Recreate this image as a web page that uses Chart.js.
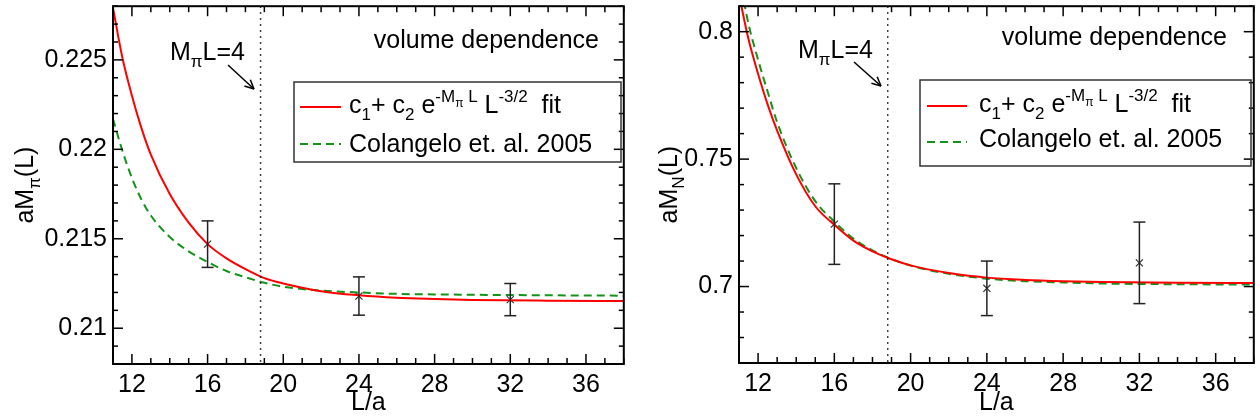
<!DOCTYPE html>
<html lang="en">
<head>
<meta charset="UTF-8">
<title>Volume dependence</title>
<style>
    * { margin: 0; padding: 0; box-sizing: border-box; }
    body { background: #fff; width: 1260px; height: 420px; overflow: hidden; }
    .row { display: flex; }
    canvas { display: block; }
</style>
</head>
<body>
<div class="row">
    <canvas id="pionChart" width="630" height="420"></canvas>
    <canvas id="nucleonChart" width="630" height="420"></canvas>
</div>

<script src="https://cdn.jsdelivr.net/npm/chart.js@4.4.1/dist/chart.umd.min.js"></script>
<script>
// lattice sizes and measured masses (with errors)
const latticeL = [16, 24, 32];
const pionMass = [0.2147, 0.2118, 0.2116];
const pionErr = [0.0013, 0.00107, 0.0009];
const nucleonMass = [0.7245, 0.6993, 0.7093];
const nucleonErr = [0.0158, 0.0107, 0.016];

// curves
const curveL = [11, 11.5, 12, 12.5, 13, 14, 15, 16, 17, 18, 19, 20, 22, 24, 26, 28, 30, 34, 38];
const pionFit = [0.2279, 0.2251, 0.2230, 0.2212, 0.2197, 0.2175, 0.2159, 0.2147, 0.2139, 0.2133,
                 0.2128, 0.2125, 0.21207, 0.21184, 0.2117, 0.21163, 0.21158, 0.21154, 0.21152];
const pionColangelo = [0.2217, 0.2199, 0.2184, 0.2172, 0.2163, 0.2151, 0.2143, 0.2137, 0.2132, 0.21285,
                       0.21254, 0.21232, 0.2121, 0.2120, 0.21192, 0.21189, 0.21187, 0.21184, 0.21182];
const nucleonFit = [0.8145, 0.797, 0.7835, 0.7715, 0.7612, 0.7440, 0.7315, 0.7242, 0.7180, 0.7138,
                    0.7107, 0.7083, 0.7053, 0.7035, 0.7026, 0.7021, 0.7018, 0.7015, 0.7014];
const nucleonColangelo = [0.822, 0.803, 0.789, 0.7765, 0.7645, 0.7465, 0.7335, 0.7255, 0.7188, 0.7142,
                          0.7108, 0.7082, 0.7050, 0.7031, 0.7021, 0.7016, 0.7012, 0.7009, 0.7008];

// axes
const xTicks = [12, 16, 20, 24, 28, 32, 36];
const pionTicks = [0.21, 0.215, 0.22, 0.225];
const pionTickLabels = ['0.21', '0.215', '0.22', '0.225'];
const nucleonTicks = [0.7, 0.75, 0.8];
const nucleonTickLabels = ['0.7', '0.75', '0.8'];
const markL = 18.8;   // M_pi L = 4

const FAMILY = '"Liberation Sans", Arial, Helvetica, sans-serif';
const RED = '#ff0000';
const GREEN = '#13931a';

function font(px) { return px + 'px ' + FAMILY; }

// text made of [string, mode] pieces: n = normal, sub, sup, supsub
function drawRich(ctx, parts, x, y, align) {
    const sizes = { n: 25, sub: 17, sup: 17, supsub: 12 };
    const shift = { n: 0, sub: 7, sup: -11, supsub: -6 };
    let w = 0;
    parts.forEach(p => { ctx.font = font(sizes[p[1] || 'n']); w += ctx.measureText(p[0]).width; });
    let cx = align === 'center' ? x - w / 2 : align === 'right' ? x - w : x;
    ctx.textAlign = 'left';
    ctx.textBaseline = 'alphabetic';
    parts.forEach(p => {
        const m = p[1] || 'n';
        ctx.font = font(sizes[m]);
        ctx.fillText(p[0], cx, y + shift[m]);
        cx += ctx.measureText(p[0]).width;
    });
}

function line(ctx, x1, y1, x2, y2) {
    ctx.beginPath();
    ctx.moveTo(x1, y1);
    ctx.lineTo(x2, y2);
    ctx.stroke();
}

function tickLoop(min, max, step, major, fn) {
    for (let i = Math.ceil(min / step - 1e-9); i * step <= max + 1e-9; i++) {
        const v = i * step;
        const isMajor = Math.abs(v / major - Math.round(v / major)) < 1e-6;
        fn(v, isMajor);
    }
}

// no extra room for overhanging tick labels
function noPad(s) {
    s.paddingTop = 0;
    s.paddingBottom = 0;
    s.paddingLeft = 0;
    s.paddingRight = 0;
}

// frame, inward ticks, error bars, legend and labels
function makePanel(cfg) {
    return {
        id: 'panel',
        afterDatasetsDraw(chart) {
            const { ctx, scales: { x, y } } = chart;
            ctx.save();
            ctx.strokeStyle = '#222';
            ctx.lineWidth = 1.5;
            latticeL.forEach((L, i) => {
                const px = x.getPixelForValue(L);
                const top = y.getPixelForValue(cfg.values[i] + cfg.errors[i]);
                const bot = y.getPixelForValue(cfg.values[i] - cfg.errors[i]);
                line(ctx, px, top, px, bot);
                line(ctx, px - 6, top, px + 6, top);
                line(ctx, px - 6, bot, px + 6, bot);
            });
            ctx.restore();
        },
        afterDraw(chart) {
            const { ctx, chartArea: a, scales: { x, y } } = chart;
            ctx.save();
            ctx.fillStyle = '#000';
            ctx.strokeStyle = '#000';

            // dotted line at M_pi L = 4
            const mx = x.getPixelForValue(markL);
            ctx.lineWidth = 1.5;
            ctx.setLineDash([1.5, 4.5]);
            line(ctx, mx, a.top, mx, a.bottom);
            ctx.setLineDash([]);

            // frame
            ctx.lineWidth = 2;
            ctx.strokeRect(a.left, a.top, a.width, a.height);

            // ticks on all four sides
            ctx.lineWidth = 1.5;
            tickLoop(x.min, x.max, 1, 4, (v, major) => {
                const px = x.getPixelForValue(v);
                const len = major ? 10 : 6;
                line(ctx, px, a.bottom, px, a.bottom - len);
                line(ctx, px, a.top, px, a.top + len);
            });
            tickLoop(y.min, y.max, cfg.yMinor, cfg.yMajor, (v, major) => {
                const py = y.getPixelForValue(v);
                const len = major ? 10 : 5;
                line(ctx, a.left, py, a.left + len, py);
                line(ctx, a.right, py, a.right - len, py);
            });

            // axis titles
            drawRich(ctx, [['L/a']], (a.left + a.right) / 2, 410, 'center');
            ctx.save();
            ctx.translate(cfg.yTitleX, (a.top + a.bottom) / 2);
            ctx.rotate(-Math.PI / 2);
            drawRich(ctx, cfg.yTitle, 0, 0, 'center');
            ctx.restore();

            // annotations
            drawRich(ctx, [['volume dependence']], cfg.volX, cfg.volY, 'right');
            drawRich(ctx, [['M'], ['\u03c0', 'sub'], ['L=4']], cfg.markX, cfg.markY, 'left');
            const [ax1, ay1, ax2, ay2] = cfg.arrow;
            ctx.lineWidth = 1.5;
            line(ctx, ax1, ay1, ax2, ay2);
            const ang = Math.atan2(ay2 - ay1, ax2 - ax1);
            [0.45, -0.45].forEach(d => {
                line(ctx, ax2, ay2, ax2 - 10 * Math.cos(ang + d), ay2 - 10 * Math.sin(ang + d));
            });

            // legend
            const lg = cfg.legend;
            ctx.lineWidth = 1.5;
            ctx.strokeStyle = '#333';
            ctx.strokeRect(lg.x, lg.y, lg.w, lg.h);
            ctx.lineWidth = 2;
            ctx.strokeStyle = RED;
            line(ctx, lg.x1, lg.r, lg.x2, lg.r);
            ctx.strokeStyle = GREEN;
            ctx.setLineDash([8, 5]);
            line(ctx, lg.x1, lg.g, lg.x2, lg.g);
            ctx.setLineDash([]);
            drawRich(ctx, [['c'], ['1', 'sub'], ['+ c'], ['2', 'sub'], [' e'], ['-M', 'sup'], ['\u03c0', 'supsub'],
                           [' L', 'sup'], [' L'], ['-3/2', 'sup'], ['  fit']], lg.tx, lg.rb, 'left');
            drawRich(ctx, [['Colangelo et. al. 2005']], lg.tx, lg.gb, 'left');
            ctx.restore();
        }
    };
}

function makeChart(id, cfg) {
    const curve = (ys) => curveL.map((L, i) => ({ x: L, y: ys[i] }));
    return new Chart(document.getElementById(id), {
        type: 'scatter',
        data: {
            datasets: [
                {
                    data: curve(cfg.fit), showLine: true, borderColor: RED, borderWidth: 2,
                    pointRadius: 0, cubicInterpolationMode: 'monotone', clip: 0
                },
                {
                    data: curve(cfg.colangelo), showLine: true, borderColor: GREEN, borderWidth: 2,
                    borderDash: [8, 5], pointRadius: 0, cubicInterpolationMode: 'monotone', clip: 0
                },
                {
                    data: latticeL.map((L, i) => ({ x: L, y: cfg.values[i] })),
                    pointStyle: 'crossRot', pointRadius: 5, borderColor: '#333', borderWidth: 1.2
                }
            ]
        },
        options: {
            responsive: false,
            animation: false,
            layout: { padding: { top: cfg.top, right: cfg.right, left: 0, bottom: 0 } },
            plugins: { legend: { display: false }, tooltip: { enabled: false } },
            scales: {
                x: {
                    type: 'linear', min: 11, max: 38,
                    grid: { display: false, drawTicks: false }, border: { display: false },
                    ticks: { font: { family: FAMILY, size: 25 }, color: '#000', padding: 6, maxRotation: 0, autoSkip: false },
                    afterBuildTicks: s => { s.ticks = xTicks.map(v => ({ value: v })); },
                    afterFit: s => { s.height = cfg.xHeight; noPad(s); }
                },
                y: {
                    type: 'linear', min: cfg.yMin, max: cfg.yMax,
                    grid: { display: false, drawTicks: false }, border: { display: false },
                    ticks: {
                        font: { family: FAMILY, size: 25 }, color: '#000', padding: 6, autoSkip: false,
                        callback: (v, i) => cfg.tickLabels[i]
                    },
                    afterBuildTicks: s => { s.ticks = cfg.ticks.map(v => ({ value: v })); },
                    afterFit: s => { s.width = cfg.yWidth; noPad(s); }
                }
            }
        },
        plugins: [makePanel(cfg)]
    });
}

makeChart('pionChart', {
    fit: pionFit, colangelo: pionColangelo, values: pionMass, errors: pionErr,
    ticks: pionTicks, tickLabels: pionTickLabels,
    yMin: 0.208, yMax: 0.228, yMinor: 0.001, yMajor: 0.005,
    top: 5, right: 2, xHeight: 56, yWidth: 113,
    yTitle: [['aM'], ['\u03c0', 'sub'], ['(L)']], yTitleX: 33,
    volX: 599, volY: 48, markX: 170, markY: 60, arrow: [228, 65, 254, 89],
    legend: { x: 294, y: 82, w: 327, h: 80, x1: 300, x2: 341, r: 107, g: 144, tx: 349, rb: 113, gb: 152 }
});

makeChart('nucleonChart', {
    fit: nucleonFit, colangelo: nucleonColangelo, values: nucleonMass, errors: nucleonErr,
    ticks: nucleonTicks, tickLabels: nucleonTickLabels,
    yMin: 0.67, yMax: 0.81, yMinor: 0.01, yMajor: 0.05,
    top: 3, right: 3, xHeight: 57, yWidth: 109,
    yTitle: [['aM'], ['N', 'sub'], ['(L)']], yTitleX: 47,
    volX: 597, volY: 45, markX: 168, markY: 58, arrow: [224, 62, 251, 86],
    legend: { x: 290, y: 80, w: 331, h: 86, x1: 297, x2: 337, r: 106, g: 142, tx: 349, rb: 112, gb: 147 }
});
</script>
</body>
</html>
